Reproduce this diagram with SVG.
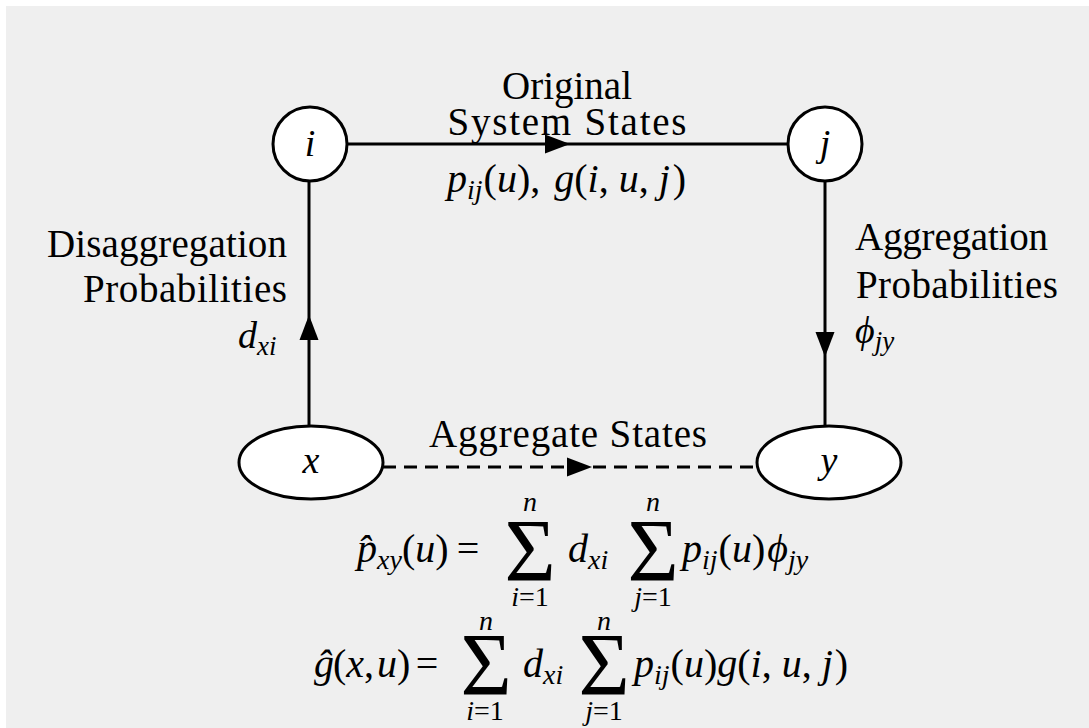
<svg xmlns="http://www.w3.org/2000/svg" width="1089" height="728" viewBox="0 0 1089 728">
<defs>
<style>
.t{font-family:"Liberation Serif","DejaVu Serif",serif;font-size:38px;fill:#000}
.l{font-size:39px}
.f{font-size:40px}
.i{font-style:italic}
.s{font-size:27px}
.fs{font-size:28px}
.sig{font-family:"Liberation Serif","DejaVu Serif",serif;font-size:88px;fill:#000;text-anchor:middle}
.node{fill:#fff;stroke:#000;stroke-width:3}
.edge{fill:none;stroke:#000;stroke-width:3;marker-mid:url(#ah)}
.dash{stroke-dasharray:13 8}
</style>
<marker id="ah" markerWidth="26" markerHeight="20" viewBox="0 0 26 20" refX="25" refY="10" orient="auto" markerUnits="userSpaceOnUse">
<path d="M0,0.5 L25,10 L0,19.5 z" fill="#000"/>
</marker>
</defs>
<rect x="0" y="0" width="1089" height="728" fill="#fff"/>
<rect x="6" y="6" width="1083" height="722" fill="#efefef"/>

<g id="connectors">
<path class="edge" d="M347,144 L570,144 L788,144"/>
<path class="edge" d="M309,426 L309,315 L309,181"/>
<path class="edge" d="M825,181 L825,357 L825,426"/>
<path class="edge dash" d="M383,467 L592,467 L757,467"/>
</g>

<g id="node-i">
<circle class="node" cx="310" cy="144" r="37"/>
<text class="t i" x="310" y="156" text-anchor="middle">i</text>
</g>
<g id="node-j">
<circle class="node" cx="825" cy="144" r="37"/>
<text class="t i" x="825" y="156" text-anchor="middle">j</text>
</g>
<g id="node-x">
<ellipse class="node" cx="311" cy="462.5" rx="72" ry="36.5"/>
<text class="t i" x="311" y="473" text-anchor="middle">x</text>
</g>
<g id="node-y">
<ellipse class="node" cx="829" cy="462.5" rx="72" ry="36.5"/>
<text class="t i" x="829" y="473" text-anchor="middle">y</text>
</g>

<g id="labels">
<text class="t l" x="567" y="99" text-anchor="middle">Original</text>
<text class="t l" x="567" y="135" text-anchor="middle" textLength="239">System States</text>
<text class="t f" x="447" y="192"><tspan class="i">p</tspan><tspan class="fs i" dy="7">ij</tspan><tspan dy="-7" dx="1">(</tspan><tspan class="i">u</tspan><tspan>), </tspan><tspan class="i" dx="4">g</tspan><tspan>(</tspan><tspan class="i">i</tspan><tspan>, </tspan><tspan class="i">u</tspan><tspan>, </tspan><tspan class="i">j</tspan><tspan dx="3">)</tspan></text>

<text class="t l" x="287" y="257" text-anchor="end" textLength="240">Disaggregation</text>
<text class="t l" x="287" y="302" text-anchor="end" textLength="204">Probabilities</text>
<text class="t i" x="238" y="348">d<tspan class="s" dy="7">xi</tspan></text>

<text class="t l" x="855" y="250" textLength="193">Aggregation</text>
<text class="t l" x="856" y="298" textLength="202">Probabilities</text>
<text class="t i" x="855" y="343">ϕ<tspan class="s" dy="7">jy</tspan></text>

<text class="t l" x="568" y="447" text-anchor="middle" textLength="278">Aggregate States</text>
</g>

<g id="formula-1">
<text class="t f i" x="357" y="562">p̂<tspan class="fs" dy="7">xy</tspan></text>
<text class="t f" x="402" y="562">(<tspan class="i">u</tspan>)</text>
<text class="t f" x="468" y="562" text-anchor="middle">=</text>
<text class="sig" x="530" y="580">Σ</text>
<text class="t fs i" x="530" y="511" text-anchor="middle">n</text>
<text class="t fs" x="530" y="606" text-anchor="middle"><tspan class="i">i</tspan>=1</text>
<text class="t f i" x="568" y="562">d<tspan class="fs" dy="7">xi</tspan></text>
<text class="sig" x="653" y="580">Σ</text>
<text class="t fs i" x="653" y="511" text-anchor="middle">n</text>
<text class="t fs" x="653" y="606" text-anchor="middle"><tspan class="i">j</tspan>=1</text>
<text class="t f" x="682" y="562"><tspan class="i">p</tspan><tspan class="fs i" dy="7">ij</tspan><tspan dy="-7" dx="1">(</tspan><tspan class="i">u</tspan><tspan>)</tspan><tspan class="i" dx="2">ϕ</tspan><tspan class="fs i" dy="7">jy</tspan></text>
</g>

<g id="formula-2">
<text class="t f i" x="314" y="677">ĝ</text>
<text class="t f" x="333" y="677">(<tspan class="i">x</tspan>,<tspan class="i" dx="3">u</tspan>)</text>
<text class="t f" x="427" y="677" text-anchor="middle">=</text>
<text class="sig" x="486" y="694">Σ</text>
<text class="t fs i" x="486" y="630" text-anchor="middle">n</text>
<text class="t fs" x="485" y="720" text-anchor="middle"><tspan class="i">i</tspan>=1</text>
<text class="t f i" x="523" y="677">d<tspan class="fs" dy="7">xi</tspan></text>
<text class="sig" x="604" y="694">Σ</text>
<text class="t fs i" x="604" y="630" text-anchor="middle">n</text>
<text class="t fs" x="604" y="720" text-anchor="middle"><tspan class="i">j</tspan>=1</text>
<text class="t f" x="634" y="677"><tspan class="i">p</tspan><tspan class="fs i" dy="7">ij</tspan><tspan dy="-7" dx="1">(</tspan><tspan class="i">u</tspan><tspan>)</tspan><tspan class="i">g</tspan><tspan>(</tspan><tspan class="i">i</tspan><tspan>, </tspan><tspan class="i">u</tspan><tspan>, </tspan><tspan class="i">j</tspan><tspan dx="2">)</tspan></text>
</g>
</svg>
